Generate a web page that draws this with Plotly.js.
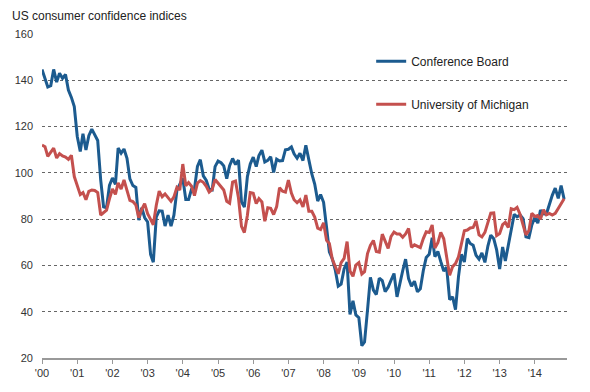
<!DOCTYPE html>
<html>
<head>
<meta charset="utf-8">
<script src="https://cdn.plot.ly/plotly-3.0.1.min.js"></script>
<style>html,body{margin:0;padding:0;background:#fff;}#chart{width:590px;height:392px;}</style>
</head>
<body>
<div id="chart"></div>
<script>
// Monthly values, Jan 2000 - Nov 2014
var startYear = 2000;
var conferenceBoard = [
  144.7,140.8,137.1,137.7,144.7,139.2,143.0,140.8,142.5,135.8,132.6,128.6,
  115.7,109.2,116.9,109.9,116.1,118.9,116.3,114.0,97.0,85.3,84.9,94.6,
  97.8,95.0,110.7,108.5,110.3,106.3,97.4,94.5,93.7,79.6,84.9,80.7,
  78.8,64.8,61.4,81.0,83.6,83.5,77.0,81.7,77.0,81.7,92.5,94.8,
  97.7,88.5,88.5,93.0,93.1,102.8,105.7,98.7,96.7,92.9,92.6,102.7,
  105.1,104.4,103.0,97.5,103.1,106.2,103.6,105.5,87.5,85.2,98.3,103.8,
  106.8,102.7,107.5,109.8,104.7,105.4,107.0,100.2,105.9,105.1,105.3,110.0,
  110.2,111.2,108.2,106.3,108.5,105.3,111.9,105.6,99.5,95.2,87.8,90.6,
  87.3,76.4,65.9,62.8,58.1,51.0,51.9,58.5,61.4,38.8,44.7,38.6,
  37.4,25.3,26.9,40.8,54.8,49.3,47.4,54.5,53.4,48.7,50.6,53.6,
  56.5,46.4,52.5,57.7,62.7,54.3,51.0,53.2,48.6,49.9,57.8,63.4,
  64.8,72.0,63.8,66.0,61.7,57.6,59.2,45.2,46.4,40.9,55.2,64.8,
  61.5,71.6,69.5,68.7,64.4,62.7,65.4,61.3,68.4,73.1,71.5,66.7,
  58.4,68.0,61.9,69.0,76.2,82.1,81.0,81.8,80.2,72.4,72.0,77.5,
  80.7,78.3,83.9,82.3,82.2,86.4,90.3,93.4,89.0,94.5,88.7
];
var michigan = [
  112.0,111.3,107.1,109.2,110.7,106.4,108.3,107.3,106.8,105.8,107.6,98.4,
  94.7,90.6,91.5,88.4,92.0,92.6,92.4,91.5,81.8,82.7,83.9,88.8,
  93.0,90.7,95.7,93.0,96.9,92.4,88.1,87.6,86.1,80.6,84.2,86.7,
  82.4,79.9,77.6,86.0,92.1,89.7,90.9,89.3,87.7,89.6,93.7,92.6,
  103.8,94.4,95.8,94.2,90.2,95.6,96.7,95.9,94.2,91.7,92.8,97.1,
  95.5,94.1,92.6,87.7,86.9,96.0,96.5,89.1,76.9,74.2,81.6,91.5,
  91.2,86.7,88.9,87.4,79.1,84.9,84.7,82.0,85.4,93.6,92.1,91.7,
  96.9,91.3,88.4,87.1,88.3,85.3,90.4,83.4,83.4,80.9,76.1,75.5,
  78.4,70.8,69.5,62.6,59.8,56.4,61.2,63.0,70.3,57.6,55.3,60.1,
  61.2,56.3,57.3,65.1,68.7,70.8,66.0,65.7,73.5,70.6,67.4,72.5,
  74.4,73.6,73.6,72.2,73.6,76.0,67.8,68.9,68.2,67.7,71.6,74.5,
  74.2,77.5,67.5,69.8,74.3,71.5,63.7,55.8,59.5,60.8,63.7,69.9,
  75.0,75.3,76.2,76.4,79.3,73.2,72.3,74.3,78.3,82.6,82.7,72.9,
  73.8,77.6,78.6,76.4,84.5,84.1,85.1,82.1,77.5,73.2,75.1,82.5,
  81.2,81.6,80.0,84.1,81.9,82.5,81.8,82.5,84.6,86.9,88.8
];
var seriesNames = ['Conference Board', 'University of Michigan'];
var yTicks = [20, 40, 60, 80, 100, 120, 140, 160];

function monthDates(n) {
  var out = [];
  for (var i = 0; i < n; i++) {
    var y = startYear + Math.floor(i / 12);
    var m = (i % 12) + 1;
    out.push(y + '-' + (m < 10 ? '0' + m : m) + '-01');
  }
  return out;
}
var dates = monthDates(conferenceBoard.length);

var font = 'Liberation Sans, Arial, sans-serif';
var traces = [
  {x: dates, y: conferenceBoard, name: seriesNames[0], type: 'scatter', mode: 'lines',
   line: {color: '#1c5b8f', width: 3}, legendgroup: 'a'},
  {x: dates, y: michigan, name: seriesNames[1], type: 'scatter', mode: 'lines',
   line: {color: '#c4504e', width: 3}, legendgroup: 'b'}
];

var layout = {
  width: 590, height: 392,
  margin: {l: 42, r: 23, t: 34, b: 34},
  paper_bgcolor: '#fff', plot_bgcolor: '#fff',
  font: {family: font, size: 11, color: '#333'},
  title: {text: 'US consumer confidence indices', xref: 'container', yref: 'container',
          x: 12/590, xanchor: 'left', y: 1 - 16/392, yanchor: 'middle',
          font: {family: font, size: 12, color: '#222'}},
  showlegend: true,
  legend: {x: 0.627, xanchor: 'left', y: 0.961, yanchor: 'top',
           traceorder: 'grouped', tracegroupgap: 24,
           bgcolor: 'rgba(0,0,0,0)', font: {family: font, size: 12, color: '#222'}},
  xaxis: {type: 'date', range: ['2000-01-01', '2014-12-01'],
          tick0: '2000-01-01', dtick: 'M12', tickformat: "'%y",
          showgrid: false, showline: true, linecolor: '#999', linewidth: 1.5,
          ticks: 'outside', ticklen: 4, tickcolor: '#999', tickwidth: 1,
          tickfont: {family: font, size: 11, color: '#333'}, zeroline: false},
  yaxis: {range: [20, 160], tickvals: yTicks, showline: false, zeroline: false,
          showgrid: true, gridcolor: '#666', gridwidth: 1, griddash: 'dot',
          ticks: '', ticklabelstandoff: 8,
          tickfont: {family: font, size: 11, color: '#333'}}
};

Plotly.newPlot('chart', traces, layout, {displayModeBar: false, staticPlot: true});
</script>
</body>
</html>
